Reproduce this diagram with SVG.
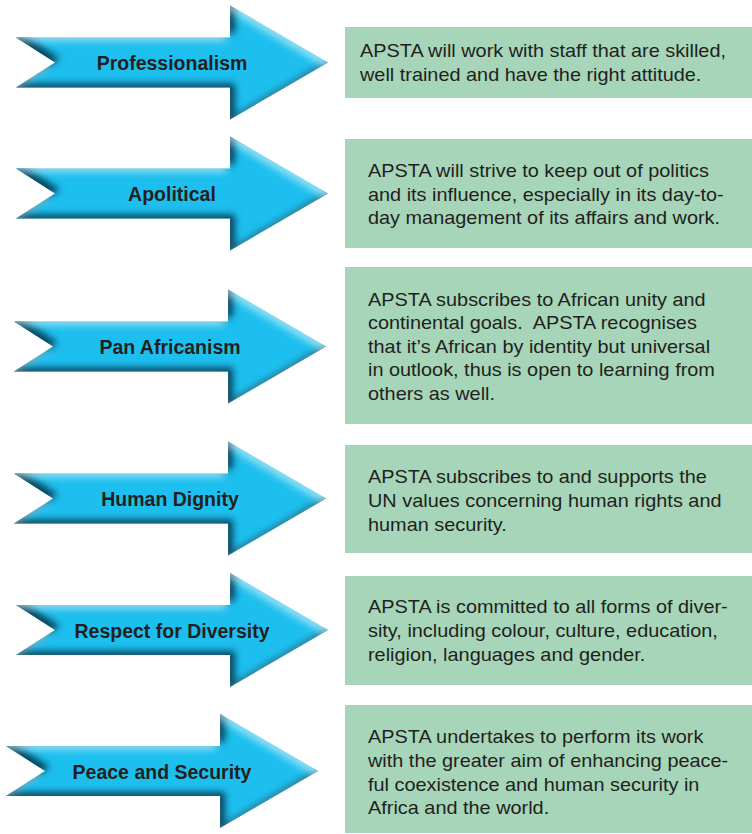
<svg xmlns="http://www.w3.org/2000/svg" xmlns:xlink="http://www.w3.org/1999/xlink" width="752" height="834" viewBox="0 0 752 834">
  <style>
    .arrow { fill: #1dbfee; filter: url(#bevel); }
    .label { font-family: "Liberation Sans", Arial, Helvetica, sans-serif; font-weight: bold; font-size: 19.5px; fill: #231f20; text-anchor: middle; }
    .box { fill: #a6d5b9; }
    .body { font-family: "Liberation Sans", Arial, Helvetica, sans-serif; font-size: 18px; fill: #231f20; white-space: pre; }
  </style>
  <defs>
    <!-- bevelled look: dark on left/lower edges, light on upper/right edges -->
    <filter id="bevel" x="-10%" y="-10%" width="120%" height="120%" color-interpolation-filters="sRGB">
      <feGaussianBlur in="SourceAlpha" stdDeviation="3.5" result="blur"/>
      <feOffset in="blur" dx="5" dy="-4" result="offDark"/>
      <feComposite in="SourceAlpha" in2="offDark" operator="out" result="darkMask"/>
      <feFlood flood-color="#06364d" flood-opacity="0.9"/>
      <feComposite in2="darkMask" operator="in" result="dark"/>
      <feOffset in="blur" dx="-4" dy="4" result="offLight"/>
      <feComposite in="SourceAlpha" in2="offLight" operator="out" result="lightMask"/>
      <feFlood flood-color="#ffffff" flood-opacity="0.5"/>
      <feComposite in2="lightMask" operator="in" result="light"/>
      <feMerge>
        <feMergeNode in="SourceGraphic"/>
        <feMergeNode in="dark"/>
        <feMergeNode in="light"/>
      </feMerge>
    </filter>
    <!-- arrow outline, tail at x=0, centre line at y=0 -->
    <path id="arrowShape" d="M0,-25 H214 V-57 L312,0 L214,57 V25 H0 L39,0 Z"/>
  </defs>

  <!-- value arrows -->
  <g id="professionalism">
    <use xlink:href="#arrowShape" class="arrow" transform="translate(16,62.5)"/>
    <text class="label" x="172" y="70">Professionalism</text>
  </g>
  <g id="apolitical">
    <use xlink:href="#arrowShape" class="arrow" transform="translate(16,193.5)"/>
    <text class="label" x="172" y="201">Apolitical</text>
  </g>
  <g id="pan-africanism">
    <use xlink:href="#arrowShape" class="arrow" transform="translate(14,346.5)"/>
    <text class="label" x="170" y="354">Pan Africanism</text>
  </g>
  <g id="human-dignity">
    <use xlink:href="#arrowShape" class="arrow" transform="translate(14,498.5)"/>
    <text class="label" x="170" y="506">Human Dignity</text>
  </g>
  <g id="respect-for-diversity">
    <use xlink:href="#arrowShape" class="arrow" transform="translate(16,630)"/>
    <text class="label" x="172" y="637.5">Respect for Diversity</text>
  </g>
  <g id="peace-and-security">
    <use xlink:href="#arrowShape" class="arrow" transform="translate(6,771)"/>
    <text class="label" x="162" y="778.5">Peace and Security</text>
  </g>

  <!-- description boxes -->
  <g id="desc-professionalism">
    <rect class="box" x="345" y="27" width="407" height="71"/>
    <g transform="translate(360,0) scale(1.105,1)">
      <text class="body" x="0" y="57">APSTA will work with staff that are skilled,</text>
      <text class="body" x="0" y="81">well trained and have the right attitude.</text>
    </g>
  </g>
  <g id="desc-apolitical">
    <rect class="box" x="345" y="139" width="407" height="109"/>
    <g transform="translate(368,0) scale(1.105,1)">
      <text class="body" x="0" y="177">APSTA will strive to keep out of politics</text>
      <text class="body" x="0" y="201">and its influence, especially in its day-to-</text>
      <text class="body" x="0" y="224.5">day management of its affairs and work.</text>
    </g>
  </g>
  <g id="desc-pan-africanism">
    <rect class="box" x="345" y="267" width="407" height="157"/>
    <g transform="translate(368,0) scale(1.105,1)">
      <text class="body" x="0" y="306">APSTA subscribes to African unity and</text>
      <text class="body" x="0" y="329.5" xml:space="preserve">continental goals.&#160; APSTA recognises</text>
      <text class="body" x="0" y="353">that it’s African by identity but universal</text>
      <text class="body" x="0" y="376.5">in outlook, thus is open to learning from</text>
      <text class="body" x="0" y="400">others as well.</text>
    </g>
  </g>
  <g id="desc-human-dignity">
    <rect class="box" x="345" y="445" width="407" height="108"/>
    <g transform="translate(368,0) scale(1.105,1)">
      <text class="body" x="0" y="483">APSTA subscribes to and supports the</text>
      <text class="body" x="0" y="507">UN values concerning human rights and</text>
      <text class="body" x="0" y="531">human security.</text>
    </g>
  </g>
  <g id="desc-respect-for-diversity">
    <rect class="box" x="345" y="576" width="407" height="109"/>
    <g transform="translate(368,0) scale(1.105,1)">
      <text class="body" x="0" y="613">APSTA is committed to all forms of diver-</text>
      <text class="body" x="0" y="637">sity, including colour, culture, education,</text>
      <text class="body" x="0" y="661">religion, languages and gender.</text>
    </g>
  </g>
  <g id="desc-peace-and-security">
    <rect class="box" x="345" y="705" width="407" height="128"/>
    <g transform="translate(368,0) scale(1.105,1)">
      <text class="body" x="0" y="743">APSTA undertakes to perform its work</text>
      <text class="body" x="0" y="767">with the greater aim of enhancing peace-</text>
      <text class="body" x="0" y="791">ful coexistence and human security in</text>
      <text class="body" x="0" y="814.5">Africa and the world.</text>
    </g>
  </g>
</svg>
